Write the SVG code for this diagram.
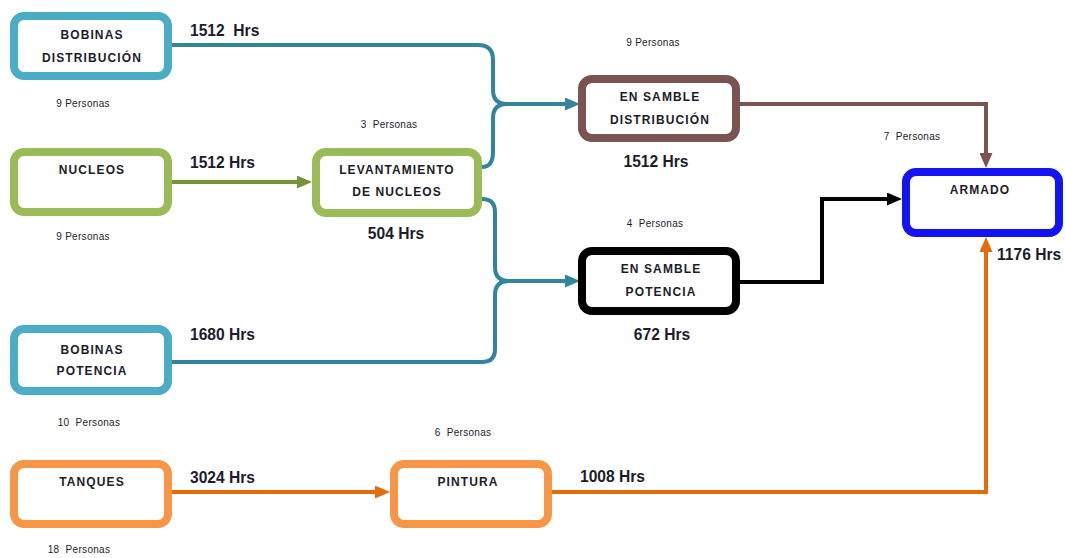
<svg xmlns="http://www.w3.org/2000/svg" width="1065" height="558" viewBox="0 0 1065 558">
  <style>
    .box { fill: #ffffff; stroke-width: 8; }
    .teal { stroke: #4BACC6; }
    .green { stroke: #9BBB59; }
    .orange { stroke: #F79646; }
    .brown { stroke: #7B5451; }
    .black { stroke: #000000; }
    .blue { stroke: #1414F2; }
    .lbl { font-family: "Liberation Sans", Arial, sans-serif; font-weight: bold; font-size: 12px; letter-spacing: 1.1px; fill: #1c1c2a; text-anchor: middle; }
    .hrs { font-family: "Liberation Sans", Arial, sans-serif; font-weight: bold; font-size: 15.6px; fill: #1c1c2a; }
    .ppl { font-family: "Liberation Sans", Arial, sans-serif; font-size: 10px; letter-spacing: 0.3px; fill: #1c1c2a; text-anchor: middle; }
    .wire { fill: none; stroke-width: 4; }
  </style>
  <defs>
    <marker id="ahTeal" markerUnits="userSpaceOnUse" markerWidth="15" markerHeight="13" viewBox="0 0 15 13" refX="2" refY="6.5" orient="auto">
      <path d="M0,0 L15,6.5 L0,13 z" fill="#31859C"/>
    </marker>
    <marker id="ahGreen" markerUnits="userSpaceOnUse" markerWidth="15" markerHeight="13" viewBox="0 0 15 13" refX="2" refY="6.5" orient="auto">
      <path d="M0,0 L15,6.5 L0,13 z" fill="#77933C"/>
    </marker>
    <marker id="ahBrown" markerUnits="userSpaceOnUse" markerWidth="15" markerHeight="13" viewBox="0 0 15 13" refX="2" refY="6.5" orient="auto">
      <path d="M0,0 L15,6.5 L0,13 z" fill="#7B5451"/>
    </marker>
    <marker id="ahBlack" markerUnits="userSpaceOnUse" markerWidth="15" markerHeight="13" viewBox="0 0 15 13" refX="2" refY="6.5" orient="auto">
      <path d="M0,0 L15,6.5 L0,13 z" fill="#000000"/>
    </marker>
    <marker id="ahOrange" markerUnits="userSpaceOnUse" markerWidth="15" markerHeight="13" viewBox="0 0 15 13" refX="2" refY="6.5" orient="auto">
      <path d="M0,0 L15,6.5 L0,13 z" fill="#E46C0A"/>
    </marker>
  </defs>

  <!-- connectors -->
  <g id="connectors">
    <path class="wire" stroke="#31859C" d="M172,45 H478 Q493,45 493,60 V90 Q493,104 507,104 H567" marker-end="url(#ahTeal)"/>
    <path class="wire" stroke="#31859C" d="M482,167 Q493,167 493,152 V118 Q493,104 507,104"/>
    <path class="wire" stroke="#31859C" d="M482,199 Q495,199 495,212 V267 Q495,281 509,281 H567" marker-end="url(#ahTeal)"/>
    <path class="wire" stroke="#31859C" d="M172,362 H482 Q495,362 495,349 V295 Q495,281 509,281"/>
    <path class="wire" stroke="#77933C" stroke-width="5" d="M172,182 H299" marker-end="url(#ahGreen)"/>
    <path class="wire" stroke="#7B5451" d="M740,104 H986 V155" marker-end="url(#ahBrown)"/>
    <path class="wire" stroke="#000000" stroke-width="5" d="M740,282 H822 V199 H889" marker-end="url(#ahBlack)"/>
    <path class="wire" stroke="#E46C0A" d="M172,492 H377" marker-end="url(#ahOrange)"/>
    <path class="wire" stroke="#E46C0A" d="M552,492 H986 V250" marker-end="url(#ahOrange)"/>
  </g>

  <g id="bobinas-distribucion">
    <rect class="box teal" x="14" y="16" width="154" height="60" rx="10"/>
    <text class="lbl" x="92" y="39">BOBINAS</text>
    <text class="lbl" x="92" y="62">DISTRIBUCIÓN</text>
    <text class="hrs" x="190" y="36" xml:space="preserve">1512  Hrs</text>
    <text class="ppl" x="83" y="107">9 Personas</text>
  </g>

  <g id="nucleos">
    <rect class="box green" x="14" y="152" width="154" height="60" rx="10"/>
    <text class="lbl" x="92" y="174">NUCLEOS</text>
    <text class="hrs" x="190" y="168">1512 Hrs</text>
    <text class="ppl" x="83" y="240">9 Personas</text>
  </g>

  <g id="bobinas-potencia">
    <rect class="box teal" x="14" y="329" width="154" height="62" rx="10"/>
    <text class="lbl" x="92" y="354">BOBINAS</text>
    <text class="lbl" x="92" y="375">POTENCIA</text>
    <text class="hrs" x="190" y="340">1680 Hrs</text>
    <text class="ppl" x="89" y="426" xml:space="preserve">10  Personas</text>
  </g>

  <g id="tanques">
    <rect class="box orange" x="14" y="464" width="154" height="60" rx="10"/>
    <text class="lbl" x="92" y="486">TANQUES</text>
    <text class="hrs" x="190" y="483">3024 Hrs</text>
    <text class="ppl" x="79" y="553" xml:space="preserve">18  Personas</text>
  </g>

  <g id="levantamiento">
    <rect class="box green" x="316" y="152" width="162" height="61" rx="10"/>
    <text class="lbl" x="397" y="174">LEVANTAMIENTO</text>
    <text class="lbl" x="397" y="196">DE NUCLEOS</text>
    <text class="hrs" x="396" y="239" text-anchor="middle">504 Hrs</text>
    <text class="ppl" x="389" y="128" xml:space="preserve">3  Personas</text>
  </g>

  <g id="ensamble-distribucion">
    <rect class="box brown" x="582" y="79" width="154" height="59" rx="10"/>
    <text class="lbl" x="660" y="101">EN SAMBLE</text>
    <text class="lbl" x="660" y="124">DISTRIBUCIÓN</text>
    <text class="hrs" x="656" y="167" text-anchor="middle">1512 Hrs</text>
    <text class="ppl" x="653" y="46">9 Personas</text>
  </g>

  <g id="ensamble-potencia">
    <rect class="box black" x="582" y="251" width="154" height="60" rx="10"/>
    <text class="lbl" x="661" y="273">EN SAMBLE</text>
    <text class="lbl" x="661" y="296">POTENCIA</text>
    <text class="hrs" x="662" y="340" text-anchor="middle">672 Hrs</text>
    <text class="ppl" x="655" y="227" xml:space="preserve">4  Personas</text>
  </g>

  <g id="pintura">
    <rect class="box orange" x="394" y="464" width="154" height="60" rx="10"/>
    <text class="lbl" x="468" y="486">PINTURA</text>
    <text class="hrs" x="580" y="482">1008 Hrs</text>
    <text class="ppl" x="463" y="436" xml:space="preserve">6  Personas</text>
  </g>

  <g id="armado">
    <rect class="box blue" x="906" y="172" width="153" height="61" rx="10"/>
    <text class="lbl" x="980" y="194">ARMADO</text>
    <text class="hrs" x="997" y="260">1176 Hrs</text>
    <text class="ppl" x="912" y="140" xml:space="preserve">7  Personas</text>
  </g>
</svg>
